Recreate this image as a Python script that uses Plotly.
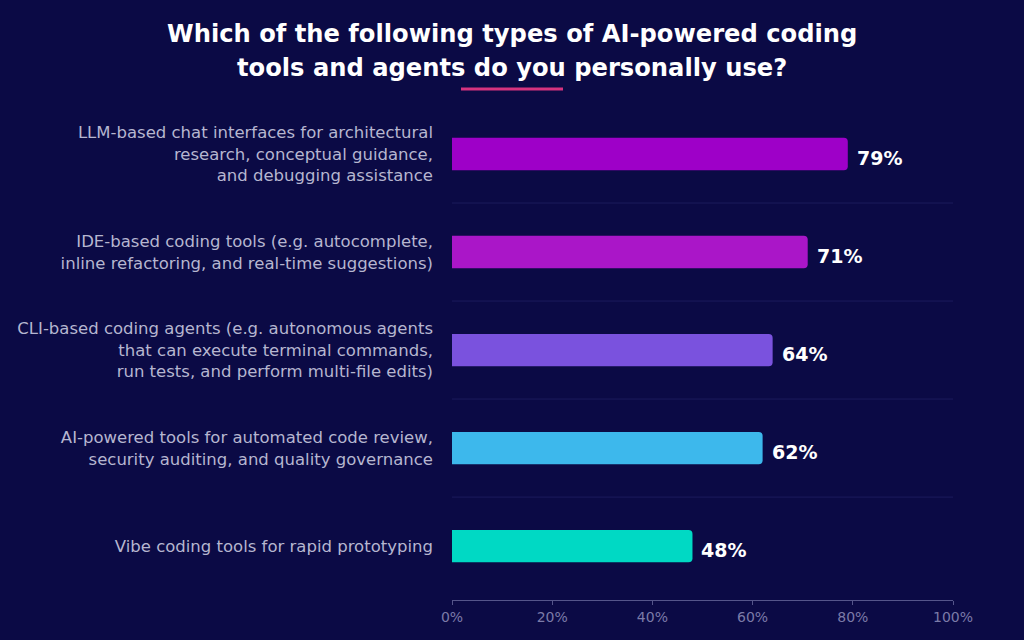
import plotly.graph_objects as go

categories = [
    "LLM-based chat interfaces for architectural<br>research, conceptual guidance,<br>and debugging assistance",
    "IDE-based coding tools (e.g. autocomplete,<br>inline refactoring, and real-time suggestions)",
    "CLI-based coding agents (e.g. autonomous agents<br>that can execute terminal commands,<br>run tests, and perform multi-file edits)",
    "AI-powered tools for automated code review,<br>security auditing, and quality governance",
    "Vibe coding tools for rapid prototyping",
]
values = [79, 71, 64, 62, 48]
colors = ["#9e00c8", "#aa16c8", "#7a52de", "#3db8ec", "#00d9c4"]
x_ticks = [0, 20, 40, 60, 80, 100]
x_tick_labels = ["0%", "20%", "40%", "60%", "80%", "100%"]
title_lines = ["Which of the following types of AI-powered coding",
               "tools and agents do you personally use?"]

BG = "#0b0a45"
FONT = "DejaVu Sans"

fig = go.Figure()
fig.add_trace(go.Bar(
    x=values, y=categories, orientation="h",
    marker=dict(color=colors, line=dict(width=0), cornerradius=4),
    width=0.33, hoverinfo="skip",
))

for v, c in zip(values, categories):
    fig.add_annotation(x=v, y=c, text=f"{v}%", showarrow=False,
                       xanchor="left", yanchor="middle", xshift=7, yshift=-4,
                       font=dict(family=FONT, size=19, color="#ffffff", weight="bold"))

# separators between categories
for i in range(len(categories) - 1):
    fig.add_shape(type="line", xref="x", yref="y", x0=0, x1=100,
                  y0=i + 0.5, y1=i + 0.5, line=dict(color="#1c1b5c", width=1), layer="below")

# title lines
for py, t in zip([34, 68], title_lines):
    fig.add_annotation(xref="paper", yref="paper", x=(512 - 452) / 501, y=(600 - py) / 495,
                       text=t, showarrow=False, xanchor="center", yanchor="middle",
                       font=dict(family=FONT, size=24.2, color="#ffffff", weight="bold"))

fig.add_shape(type="line", xref="paper", yref="paper",
              x0=(461 - 452) / 501, x1=(563 - 452) / 501,
              y0=(600 - 89) / 495, y1=(600 - 89) / 495,
              line=dict(color="#d6337f", width=3))

fig.update_layout(
    width=1024, height=640,
    margin=dict(l=452, r=71, t=105, b=40),
    paper_bgcolor=BG, plot_bgcolor=BG,
    showlegend=False,
    font=dict(family=FONT),
    xaxis=dict(range=[0, 100], tickvals=x_ticks, ticktext=x_tick_labels,
               showgrid=False, zeroline=False, showline=True, linecolor="#55558a",
               linewidth=1, ticks="outside", ticklen=4, tickcolor="#55558a",
               tickfont=dict(family=FONT, size=14, color="#7b7ba8"), fixedrange=True),
    yaxis=dict(range=[4.55, -0.5], showgrid=False, zeroline=False, showline=False,
               ticks="", ticklabelstandoff=18,
               tickfont=dict(family=FONT, size=16.5, color="#b6b6d0"), fixedrange=True),
)

fig.write_html("out.html")
